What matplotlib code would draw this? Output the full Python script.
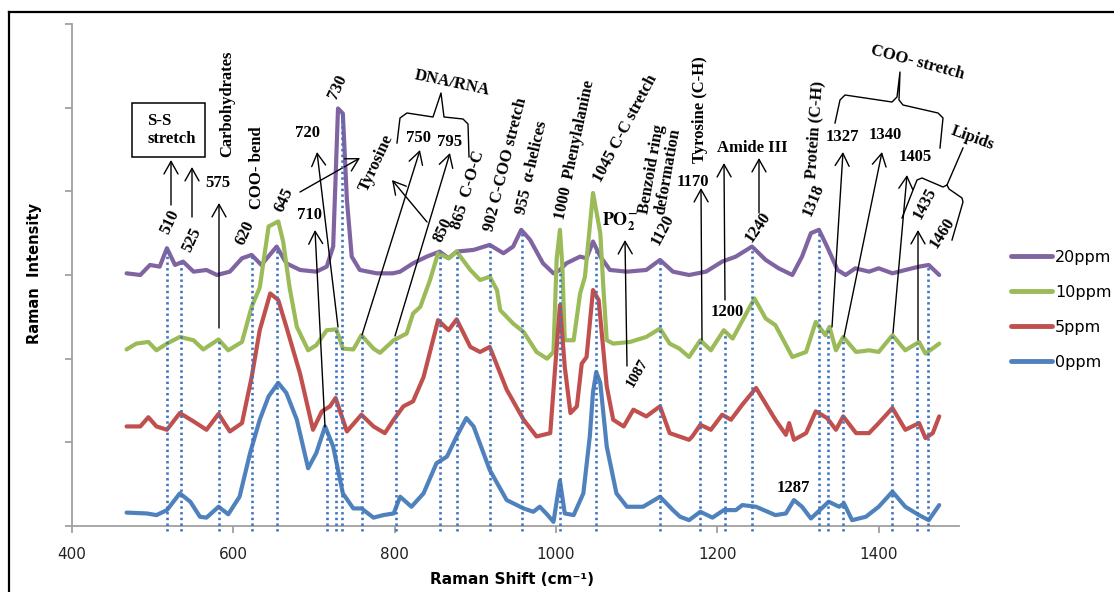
import numpy as np
import matplotlib
matplotlib.use("Agg")
import matplotlib.pyplot as plt
from matplotlib.lines import Line2D
from matplotlib.patches import Rectangle

plt.rcParams['font.family'] = ['DejaVu Sans']
plt.rcParams['mathtext.fontset'] = 'stix'

# ---------------- data ----------------
wn_0 = [468, 493, 505, 518, 534, 547, 559, 567, 582, 594, 608, 621, 633, 644, 656, 666, 679, 693, 703, 714,
        724, 736, 749, 759, 774, 786, 799, 807, 821, 836, 852, 865, 877, 889, 898, 918, 939, 960, 972, 980,
        988, 997, 1005, 1011, 1022, 1034, 1042, 1046, 1050, 1055, 1063, 1075, 1088, 1108, 1129, 1145, 1154,
        1165, 1179, 1194, 1208, 1223, 1231, 1248, 1272, 1285, 1295, 1305, 1316, 1338, 1351, 1357, 1367,
        1384, 1400, 1417, 1433, 1450, 1462, 1475]
int_0 = [0.16, 0.15, 0.13, 0.19, 0.39, 0.29, 0.11, 0.10, 0.23, 0.14, 0.35, 0.87, 1.27, 1.55, 1.71, 1.59, 1.27,
         0.69, 0.87, 1.19, 0.95, 0.39, 0.21, 0.21, 0.10, 0.13, 0.15, 0.35, 0.23, 0.39, 0.75, 0.83, 1.07, 1.29,
         1.19, 0.67, 0.31, 0.21, 0.17, 0.23, 0.15, 0.05, 0.54, 0.15, 0.13, 0.39, 1.07, 1.60, 1.84, 1.71, 0.95,
         0.39, 0.23, 0.23, 0.35, 0.19, 0.11, 0.07, 0.17, 0.10, 0.19, 0.19, 0.25, 0.23, 0.13, 0.15, 0.31, 0.23,
         0.09, 0.29, 0.23, 0.27, 0.07, 0.11, 0.23, 0.41, 0.23, 0.13, 0.07, 0.25]

wn_5 = [468, 485, 495, 505, 518, 534, 551, 567, 582, 596, 611, 623, 633, 646, 656, 666, 683, 699, 710, 720,
        727, 741, 759, 774, 788, 799, 811, 823, 836, 854, 867, 877, 894, 906, 918, 939, 960, 976, 993, 1001,
        1005, 1011, 1018, 1026, 1032, 1038, 1046, 1053, 1063, 1071, 1084, 1096, 1112, 1129, 1141, 1153, 1165,
        1169, 1179, 1192, 1206, 1217, 1231, 1248, 1272, 1285, 1289, 1295, 1310, 1322, 1336, 1347, 1356, 1372,
        1388, 1400, 1417, 1433, 1450, 1458, 1467, 1475]
int_5 = [1.19, 1.19, 1.30, 1.19, 1.15, 1.35, 1.25, 1.15, 1.34, 1.13, 1.23, 1.78, 2.34, 2.78, 2.70, 2.38, 1.82,
         1.15, 1.37, 1.43, 1.53, 1.13, 1.33, 1.19, 1.11, 1.27, 1.43, 1.49, 1.78, 2.46, 2.34, 2.47, 2.14, 2.08,
         2.14, 1.63, 1.27, 1.07, 1.11, 2.14, 2.64, 1.90, 1.35, 1.43, 1.94, 2.02, 2.82, 2.70, 1.67, 1.27, 1.19,
         1.39, 1.31, 1.43, 1.11, 1.07, 1.03, 1.07, 1.21, 1.15, 1.33, 1.27, 1.45, 1.65, 1.27, 1.09, 1.23, 1.03,
         1.11, 1.37, 1.29, 1.15, 1.31, 1.11, 1.11, 1.23, 1.41, 1.15, 1.23, 1.05, 1.11, 1.31]

wn_10 = [468, 480, 495, 505, 518, 534, 551, 563, 582, 594, 611, 623, 633, 644, 656, 662, 670, 679, 693, 703,
         716, 728, 736, 749, 759, 774, 782, 799, 815, 823, 832, 844, 854, 867, 877, 894, 906, 918, 927, 931,
         947, 960, 976, 989, 997, 1001, 1005, 1008, 1011, 1022, 1030, 1036, 1046, 1055, 1059, 1063, 1071, 1092,
         1112, 1129, 1141, 1153, 1165, 1179, 1192, 1208, 1219, 1246, 1260, 1272, 1293, 1310, 1322, 1334, 1339,
         1347, 1356, 1372, 1388, 1400, 1417, 1433, 1450, 1458, 1475]
int_10 = [2.11, 2.18, 2.20, 2.10, 2.18, 2.26, 2.22, 2.11, 2.23, 2.10, 2.20, 2.62, 2.85, 3.58, 3.64, 3.40, 2.85,
          2.38, 2.10, 2.16, 2.34, 2.35, 2.12, 2.11, 2.28, 2.12, 2.07, 2.22, 2.30, 2.54, 2.62, 2.94, 3.26, 3.20,
          3.28, 3.06, 2.94, 2.98, 2.82, 2.58, 2.42, 2.32, 2.08, 2.00, 2.08, 3.20, 3.54, 3.10, 2.22, 2.22, 2.78,
          2.98, 3.98, 3.50, 2.82, 2.22, 2.18, 2.20, 2.26, 2.36, 2.18, 2.12, 2.02, 2.22, 2.10, 2.34, 2.24, 2.72,
          2.48, 2.40, 2.02, 2.08, 2.44, 2.28, 2.38, 2.10, 2.26, 2.08, 2.10, 2.08, 2.28, 2.10, 2.20, 2.06, 2.18]

wn_20 = [468, 485, 497, 509, 518, 528, 538, 551, 567, 580, 596, 611, 623, 635, 654, 666, 683, 703, 716, 724,
         730, 736, 741, 747, 757, 778, 798, 807, 823, 840, 856, 867, 877, 898, 918, 935, 947, 957, 968, 984,
         997, 1005, 1013, 1030, 1038, 1046, 1055, 1067, 1088, 1112, 1129, 1145, 1165, 1186, 1206, 1223, 1243,
         1260, 1276, 1293, 1305, 1316, 1326, 1336, 1349, 1359, 1371, 1388, 1400, 1417, 1433, 1450, 1462, 1475]
int_20 = [3.02, 3.00, 3.12, 3.10, 3.32, 3.12, 3.16, 3.04, 3.06, 3.00, 3.04, 3.20, 3.24, 3.12, 3.34, 3.14, 3.06,
          3.04, 3.10, 3.34, 4.99, 4.93, 3.90, 3.22, 3.06, 3.02, 3.02, 3.04, 3.14, 3.22, 3.28, 3.20, 3.28, 3.30,
          3.36, 3.26, 3.34, 3.54, 3.42, 3.14, 3.02, 3.06, 3.14, 3.22, 3.20, 3.40, 3.22, 3.06, 3.04, 3.06, 3.18,
          3.04, 3.00, 3.04, 3.16, 3.22, 3.34, 3.18, 3.08, 3.00, 3.22, 3.50, 3.54, 3.34, 3.06, 3.00, 3.08, 3.04,
          3.08, 3.02, 3.06, 3.10, 3.12, 3.00]

series_labels = ['20ppm', '10ppm', '5ppm', '0ppm']
series_colors = ['#8064A2', '#9BBB59', '#C0504D', '#4F81BD']
series_wn = [wn_20, wn_10, wn_5, wn_0]
series_int = [int_20, int_10, int_5, int_0]

# dotted band-marker lines: position, curve whose height they reach
band_pos = [518, 535, 582.6, 623.8, 654, 716, 727.6, 734.6, 759.4, 801.5, 856, 877, 918, 957.5, 1005,
            1049.7, 1129, 1179, 1210, 1243.5, 1326, 1337.6, 1355.8, 1416, 1448, 1461.5]
band_top = ['20ppm', '20ppm', '10ppm', '20ppm', '20ppm', '0ppm', '10ppm', '20ppm', '10ppm', '10ppm',
            '20ppm', '20ppm', '20ppm', '20ppm', '20ppm', '20ppm', '20ppm', '10ppm', '10ppm', '20ppm',
            '20ppm', '10ppm', '10ppm', '10ppm', '10ppm', '20ppm']

x_ticks = [400, 600, 800, 1000, 1200, 1400]
y_ticks = [0, 1, 2, 3, 4, 5, 6]

# ---------------- figure ----------------
W, H = 1114, 592
fig = plt.figure(figsize=(W / 100, H / 100), dpi=100)
ax = fig.add_axes([71.7 / W, 66 / H, 887.7 / W, 502 / H])
ax.set_xlim(400, 1500)
ax.set_ylim(0, 6)

axis_gray = '#a0a0a0'
for s in ['top', 'right']:
    ax.spines[s].set_visible(False)
for s in ['left', 'bottom']:
    ax.spines[s].set_color(axis_gray)
    ax.spines[s].set_linewidth(1.3)
ax.set_xticks(x_ticks)
ax.set_xticklabels([str(t) for t in x_ticks], fontsize=11, color='#222222')
ax.set_yticks(y_ticks)
ax.set_yticklabels([])
ax.tick_params(axis='x', direction='out', length=5, width=1.3, color=axis_gray, pad=10)
ax.tick_params(axis='y', direction='out', length=5, width=1.3, color=axis_gray)

handles = {}
for lab, col, xs, ys in zip(series_labels, series_colors, series_wn, series_int):
    ln, = ax.plot(xs, ys, color=col, lw=3, solid_joinstyle='round', solid_capstyle='round', label=lab)
    handles[lab] = ln

lookup = dict(zip(series_labels, zip(series_wn, series_int)))
for pos, which in zip(band_pos, band_top):
    xs, ys = lookup[which]
    top = np.interp(pos, xs, ys)
    ax.plot([pos, pos], [-0.06, top], color='#3f74c0', lw=1.9, ls=(0, (0.9, 1.25)),
            dash_capstyle='butt', clip_on=False, zorder=5)

leg = fig.legend([handles[l] for l in series_labels], series_labels, loc='center left',
                 bbox_to_anchor=(1011 / W, 1 - 310 / H), frameon=False, fontsize=11.5,
                 handlelength=2.55, handletextpad=0.2, labelspacing=1.25, borderpad=0, borderaxespad=0)
for ln in leg.get_lines():
    ln.set_linewidth(3.5)

fig.text(512 / W, 1 - 580 / H, 'Raman Shift (cm⁻¹)', ha='center', va='center', fontsize=11, fontweight='bold')
fig.text(35 / W, 1 - 274 / H, 'Raman  Intensity', ha='center', va='center', rotation=90, fontsize=10.5,
         fontweight='bold')

# outer frame
fig.add_artist(Line2D([9 / W, 9 / W], [0, 1 - 12 / H], color='black', lw=1.6, transform=fig.transFigure))
fig.add_artist(Line2D([9 / W, 1], [1 - 12 / H, 1 - 12 / H], color='black', lw=1.6, transform=fig.transFigure))


# ---------------- annotations (layout in reference pixels) ----------------
def fp(px, py):
    return (px / W, 1 - py / H)


SERIF = ['Liberation Serif', 'DejaVu Serif']


def label(px, py, s, rot=0, size=12, **kw):
    fig.text(*fp(px, py), s, rotation=rot, ha='center', va='center', fontsize=size,
             family=SERIF, fontweight='bold', rotation_mode='anchor', **kw)


def arrow(tail, tip):
    ax.annotate('', xy=fp(*tip), xytext=fp(*tail), xycoords='figure fraction',
                textcoords='figure fraction', annotation_clip=False,
                arrowprops=dict(arrowstyle='->,head_length=0.5,head_width=0.28', lw=1.0,
                                color='black', mutation_scale=18, shrinkA=0, shrinkB=0))


def poly(pts):
    xs = [p[0] / W for p in pts]
    ys = [1 - p[1] / H for p in pts]
    fig.add_artist(Line2D(xs, ys, color='black', lw=1.0, transform=fig.transFigure))


# S-S stretch box
fig.add_artist(Rectangle(fp(131.7, 157.3), 73.3 / W, 54.6 / H, fill=False, lw=1.1, ec='black',
                         transform=fig.transFigure))
fig.text(*fp(147, 130), 'S-S\nstretch', ha='left', va='center', fontsize=12, family=SERIF,
         fontweight='bold', linespacing=1.15)

label(170, 222, '510', 65)
label(192, 240, '525', 65)
label(227, 104, 'Carbohydrates', 90)
label(218, 183, '575')
label(245, 233, '620', 65)
label(257, 168, 'COO- bend', 90)
label(284, 200, '645', 65)
label(308, 133, '720')
label(310, 215, '710')
label(338, 87, '730', 65)
label(376, 163, 'Tyrosine', 65)
label(452, 83, 'DNA/RNA', -12)
label(418, 138, '750')
label(450, 142, '795')
label(443, 230, '850', 65)
label(468, 190, '865  C-O-C', 73)
label(506, 165, '902 C-COO stretch', 76)
label(532, 168, '955  α-helices', 77)
label(575, 150, '1000  Phenylalanine', 78)
label(625, 128, '1045 C-C stretch', 62)
fig.text(*fp(620, 222), r'$\mathbf{PO_2^{-}}$', ha='center', va='center', fontsize=13)
label(637, 373, '1087', 60, size=11)
label(660, 170, 'Benzoid ring\ndeformation', 80, linespacing=1.0)
label(663, 230, '1120', 62)
label(700, 110, 'Tyrosine (C-H)', 90)
label(693, 182, '1170')
label(752, 148, 'Amide III')
label(727, 312, '1200')
label(758, 227, '1240', 55)
label(813, 200, '1318', 67)
label(815, 130, 'Protein (C-H)', 86)
label(917, 63, 'COO- stretch', -15)
label(842, 137, '1327')
label(885, 135, '1340')
label(915, 157, '1405')
label(973, 138, 'Lipids', -20)
label(925, 203, '1435', 62)
label(942, 233, '1460', 57)
label(793, 488, '1287')

arrow((171, 205), (171, 160))
arrow((192, 217), (192, 167))
arrow((219, 328), (219, 203))
arrow((300, 192), (360, 158))
arrow((325, 427), (315, 230))
arrow((338, 327), (317, 152))
arrow((427, 222), (392, 180))
arrow((362, 335), (420, 150))
arrow((395, 336), (450, 153))
arrow((627, 366), (625, 240))
arrow((702, 340), (701, 188))
arrow((725, 300), (724, 163))
arrow((759, 213), (759, 158))
arrow((832, 327), (843, 152))
arrow((844, 337), (882, 152))
arrow((893, 333), (907, 175))
arrow((918, 340), (918, 230))

# brackets
poly([(397, 143), (400, 118), (407, 113), (433, 117), (441, 93), (444, 117), (463, 119), (468, 124), (469, 157)])
poly([(835, 123), (840, 100), (845, 95), (892, 102), (897, 97), (900, 72), (899, 100), (903, 105), (938, 113),
      (943, 118), (940, 148)])
poly([(902, 218), (917, 180), (922, 178), (943, 187), (947, 185), (963, 148)])
poly([(947, 185), (949, 189), (962, 198), (963, 202), (952, 240)])

fig.savefig('out.png', dpi=100)
